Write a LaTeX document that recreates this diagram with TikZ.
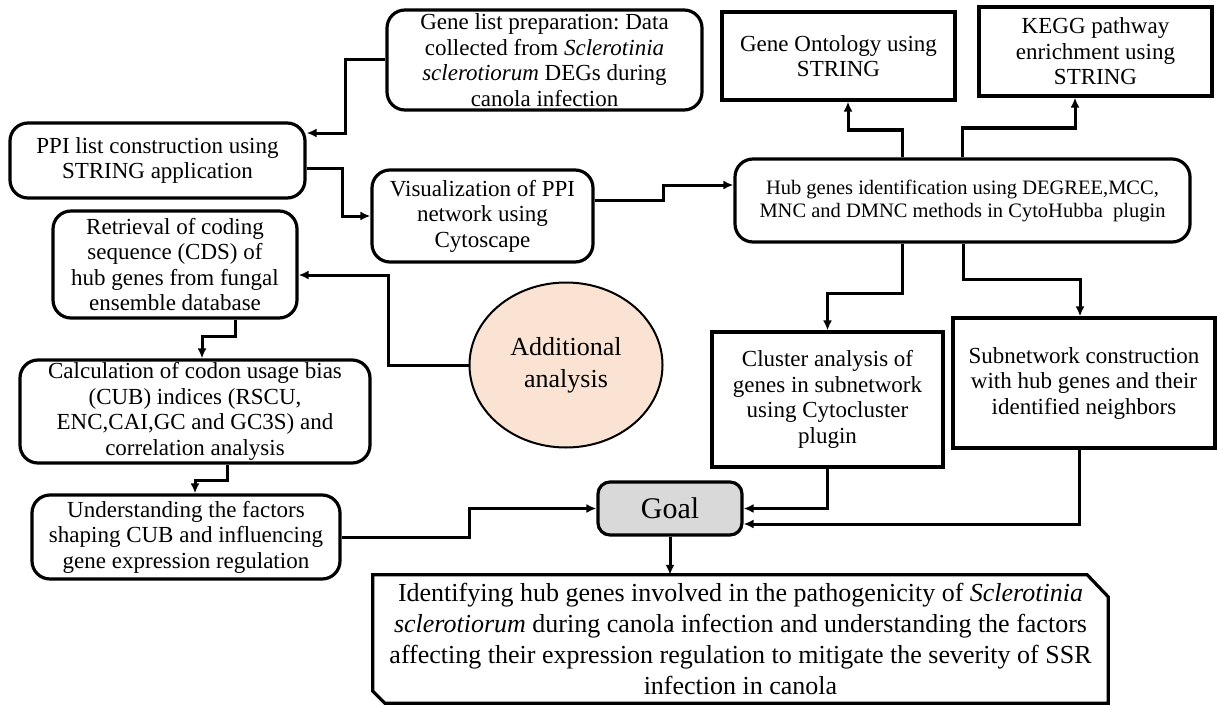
\documentclass[tikz,border=0pt]{standalone}
\usepackage{fontspec}
\setmainfont{Liberation Serif}
\usetikzlibrary{arrows.meta,calc,shapes.geometric}
\definecolor{peach}{HTML}{FBE3D4}
\definecolor{goalgray}{HTML}{D9D9D9}
\frenchspacing
\begin{document}
\begin{tikzpicture}[x=1pt,y=-1pt,
  base/.style={draw=black,line width=3.2pt,align=center,inner sep=1pt,
    font=\fontsize{23}{25.5}\selectfont},
  rbox/.style={base,rounded corners=18pt},
  sbox/.style={base},
  arr/.style={line width=3pt,-{Latex[length=10pt,width=9pt]}}]
\useasboundingbox (0,0) rectangle (1217,706);

\node[rbox,minimum width=315,minimum height=100] (gene) at (544.5,60)
  {Gene list preparation: Data\\ collected from \emph{Sclerotinia}\\ \emph{sclerotiorum} DEGs during\\ canola infection};
\node[sbox,minimum width=233,minimum height=88] (go) at (838.5,56)
  {Gene Ontology using\\ STRING};
\node[sbox,minimum width=233,minimum height=89] (kegg) at (1095.5,51.5)
  {KEGG pathway\\ enrichment using\\ STRING};
\node[rbox,minimum width=455,minimum height=83,font=\fontsize{20.5}{23}\selectfont] (hub) at (962.5,200.5)
  {Hub genes identification using DEGREE,MCC,\\ MNC and DMNC methods in CytoHubba\ \ plugin};
\node[rbox,minimum width=295,minimum height=75] (ppi) at (157.5,160.5)
  {PPI list construction using\\ STRING application};
\node[rbox,minimum width=221,minimum height=92] (vis) at (482.5,216)
  {Visualization of PPI\\ network using\\ Cytoscape};
\node[rbox,minimum width=244,minimum height=107] (ret) at (175,264.5)
  {Retrieval of coding\\ sequence (CDS) of\\ hub genes from fungal\\ ensemble database};
\node[rbox,minimum width=350,minimum height=103] (calc) at (195,411.5)
  {Calculation of codon usage bias\\ (CUB) indices (RSCU,\\ ENC,CAI,GC and GC3S) and\\ correlation analysis};
\node[rbox,minimum width=308,minimum height=84] (und) at (186,537)
  {Understanding the factors\\ shaping CUB and influencing\\ gene expression regulation};
\node[ellipse,draw=black,line width=2pt,fill=peach,minimum width=193,minimum height=165,
  align=center,inner sep=0pt,font=\fontsize{26}{32}\selectfont] (add) at (566,365)
  {Additional\\ analysis};
\node[rbox,fill=goalgray,rounded corners=12pt,minimum width=144,minimum height=53,
  font=\fontsize{30}{32}\selectfont] (goal) at (670,508.5) {Goal};
\node[sbox,minimum width=231,minimum height=135] (cluster) at (827.5,399.5)
  {Cluster analysis of\\ genes in subnetwork\\ using Cytocluster\\ plugin};
\node[sbox,minimum width=262,minimum height=130] (sub) at (1084,383)
  {Subnetwork construction\\ with hub genes and their\\ identified neighbors};
\node[align=center,minimum width=735,minimum height=128,inner sep=0pt,
  font=\fontsize{26}{31}\selectfont] (final) at (740.5,639)
  {Identifying hub genes involved in the pathogenicity of \emph{Sclerotinia}\\
   \emph{sclerotiorum} during canola infection and understanding the factors\\
   affecting their expression regulation to mitigate the severity of SSR\\
   infection in canola};
\draw[line width=3.2pt,line join=miter]
  (final.north west) -- ($(final.north east)+(-21,0)$) -- ($(final.north east)+(0,22)$)
  -- (final.south east) -- ($(final.south west)+(12,0)$) -- ($(final.south west)+(0,-12)$) -- cycle;

% connectors
\draw[arr] (gene.west) -| (345,133) -- (ppi.east |- 345,133);
\draw[arr] (ppi.east |- 0,168) -| (342,216) -- (vis.west);
\draw[arr] (vis.east |- 0,200) -| (663,185) -- (hub.west |- 0,185);
\draw[arr] (hub.north -| 902,0) |- (848,130) -- (go.south -| 848,0);
\draw[arr] (hub.north -| 962,0) |- (1075,128) -- (kegg.south -| 1075,0);
\draw[arr] (hub.south -| 902,0) |- (827.5,293) -- (cluster.north);
\draw[arr] (hub.south -| 963,0) |- (1080,279) -- (sub.north -| 1080,0);
\draw[arr] (cluster.south) |- (goal.east);
\draw[arr] (sub.south -| 1079,0) |- (goal.east |- 0,524);
\draw[arr] (und.east) -| (469,508.5) -- (goal.west);
\draw[arr] (goal.south) -- (goal.south |- final.north);
\draw[arr] (ret.south -| 235,0) |- (202,336) -- (calc.north -| 202,0);
\draw[arr] (calc.south -| 227,0) |- (195,480) -- (und.north -| 195,0);
\draw[arr] (add.west) -| (388,275) -- (ret.east |- 0,275);
\end{tikzpicture}
\end{document}
